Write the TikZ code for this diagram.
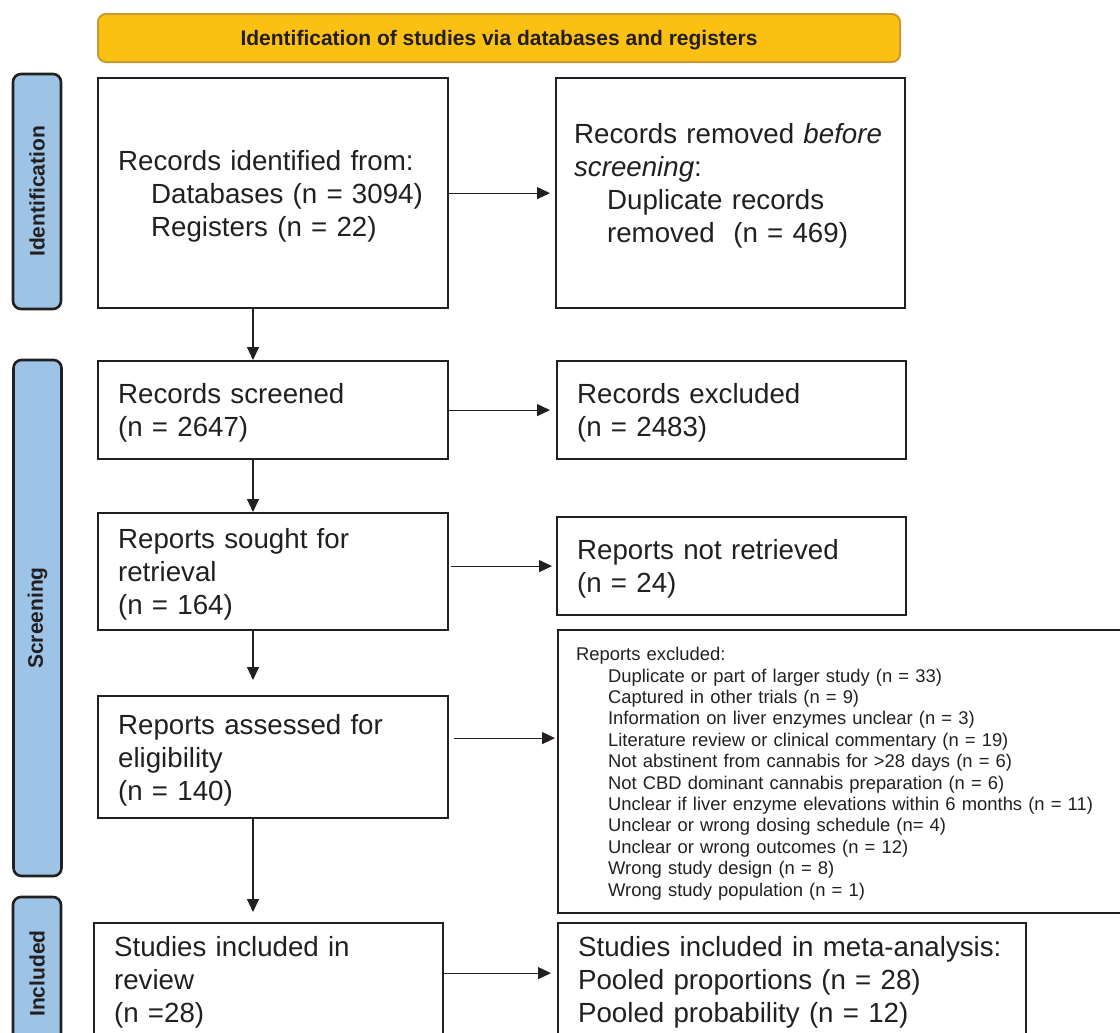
\documentclass[tikz,border=0pt]{standalone}
\usepackage{fontspec}
\setmainfont{Liberation Sans}
\usepackage{tikz}
\usetikzlibrary{arrows.meta, calc}

\definecolor{inkgray}{HTML}{231F20}
\definecolor{bannergold}{HTML}{FBC012}
\definecolor{bannerline}{HTML}{C99A2E}
\definecolor{phaseblue}{HTML}{9DC3E6}

\begin{document}
\begin{tikzpicture}[
        x=0.5pt, y=-0.5pt,
        every node/.style={text=inkgray},
        plainbox/.style={rectangle, draw=inkgray, line width=1.1pt, anchor=north west, inner xsep=10pt, inner ysep=0pt, align=left, font=\fontsize{13.85}{16.5}\selectfont},
        box/.style={plainbox, execute at begin node={\rule{0pt}{0.94em}}},
        smallbox/.style={box, font=\fontsize{9.2}{10.7}\selectfont},
        phase/.style={rectangle, rounded corners=4pt, draw=inkgray, line width=1.3pt, fill=phaseblue, rotate=90, minimum height=24pt, inner sep=0pt, font=\fontsize{10.5}{12}\selectfont\bfseries},
        banner/.style={rectangle, rounded corners=4pt, draw=bannerline, line width=1pt, fill=bannergold, minimum width=401pt, minimum height=24pt, text depth=0pt, font=\fontsize{10.5}{12}\selectfont\bfseries},
        flow/.style={-{Triangle[length=6.5pt, width=6pt]}, draw=inkgray, line width=0.6pt}
    ]
        \useasboundingbox (0,0) rectangle (1120,1033);
        \clip (0,0) rectangle (1120,1033);

        % Header and phases
        \node[banner] (head) at (499,38) {Identification of studies via databases and registers};
        \node[phase, minimum width=117.5pt] (phid) at (37,191.5) {Identification};
        \node[phase, minimum width=258pt] (phscr) at (37.5,618) {Screening};
        \node[phase, minimum width=76.5pt] (phinc) at (37,973.5) {Included};

        % Left column
        \node[box, text width=155pt, minimum height=115pt] (ident) at (97,77)
            {Records identified from:\\\hspace*{16.5pt}Databases (n = 3094)\\\hspace*{16.5pt}Registers (n = 22)};
        \node[box, text width=155pt, minimum height=49pt] (screened) at (97,360)
            {Records screened\\(n = 2647)};
        \node[box, text width=155pt, minimum height=58.5pt] (sought) at (97,512)
            {Reports sought for\\retrieval\\(n = 164)};
        \node[box, text width=155pt, minimum height=61pt] (assessed) at (97,695)
            {Reports assessed for\\eligibility\\(n = 140)};
        \node[plainbox, text width=154.5pt, minimum height=59pt] (included) at (93,922)
            {Studies included in\\review\\(n =28)};

        % Right column
        \node[plainbox, inner xsep=9pt, text width=156.5pt, minimum height=115pt] (removed) at (555,77)
            {Records removed \textit{before}\\\textit{screening}:\\\hspace*{16.5pt}Duplicate records\\\hspace*{16.5pt}removed\ \ (n = 469)\rule[-10pt]{0pt}{0pt}};
        \node[box, text width=154.5pt, minimum height=49pt] (recexcl) at (556,360)
            {Records excluded\\(n = 2483)};
        \node[box, text width=154.5pt, minimum height=49pt] (notretr) at (556,516)
            {Reports not retrieved\\(n = 24)};
        \node[smallbox, inner xsep=9pt, text width=278pt, minimum height=141.5pt] (repexcl) at (557,629)
            {Reports excluded:\\
             \hspace*{16pt}Duplicate or part of larger study (n = 33)\\
             \hspace*{16pt}Captured in other trials (n = 9)\\
             \hspace*{16pt}Information on liver enzymes unclear (n = 3)\\
             \hspace*{16pt}Literature review or clinical commentary (n = 19)\\
             \hspace*{16pt}Not abstinent from cannabis for >28 days (n = 6)\\
             \hspace*{16pt}Not CBD dominant cannabis preparation (n = 6)\\
             \hspace*{16pt}Unclear if liver enzyme elevations within 6 months (n = 11)\\
             \hspace*{16pt}Unclear or wrong dosing schedule (n= 4)\\
             \hspace*{16pt}Unclear or wrong outcomes (n = 12)\\
             \hspace*{16pt}Wrong study design (n = 8)\\
             \hspace*{16pt}Wrong study population (n = 1)};
        \node[plainbox, text width=214pt, minimum height=59pt] (meta) at (557,922)
            {Studies included in meta-analysis:\\Pooled proportions (n = 28)\\Pooled probability (n = 12)};

        % Arrows down
        \coordinate (col) at (253,0);
        \draw[flow] (ident.south -| col) -- (screened.north -| col);
        \draw[flow] (screened.south -| col) -- (sought.north -| col);
        \draw[flow, shorten >=7.5pt] (sought.south -| col) -- (assessed.north -| col);
        \draw[flow, shorten >=5pt] (assessed.south -| col) -- (included.north -| col);

        % Arrows across
        \draw[flow, shorten >=2.5pt] (ident.east) -- (ident.east -| removed.west);
        \draw[flow, shorten >=3pt] (screened.east) -- (screened.east -| recexcl.west);
        \draw[flow, shorten <=1pt, shorten >=2pt] (sought.east |- notretr.west) -- (notretr.west);
        \draw[flow, shorten <=2.5pt, shorten >=1pt] ([yshift=9.5pt]assessed.east) -- ([yshift=9.5pt]assessed.east -| repexcl.west);
        \draw[flow, shorten >=3pt] ([yshift=4.5pt]included.east) -- ([yshift=4.5pt]included.east -| meta.west);
    \end{tikzpicture}
\end{document}
